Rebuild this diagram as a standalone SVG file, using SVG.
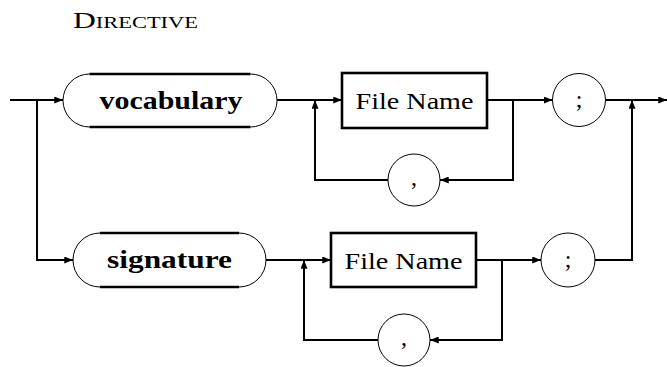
<svg xmlns="http://www.w3.org/2000/svg" width="667" height="367" viewBox="0 0 667 367">
<style>
  .conn { fill: none; stroke: #000; stroke-width: 2; }
  .thin { fill: none; stroke: #000; stroke-width: 1; }
  .thick { fill: none; stroke: #000; stroke-width: 2.6; }
  .box { fill: #fff; stroke: #000; stroke-width: 2.6; }
  .circ { fill: #fff; stroke: #000; stroke-width: 1; }
  text { font-family: "Liberation Serif", "Times New Roman", "DejaVu Serif", serif; fill: #000; }
  .kw { font-family: "Liberation Serif", "DejaVu Serif", serif; font-weight: 700; font-size: 25px; }
  .nt { font-size: 23px; }
  .pn { font-size: 24px; }
</style>
<defs>
  <marker id="arr" viewBox="0 0 10 8" refX="10" refY="4" markerWidth="9" markerHeight="7" markerUnits="userSpaceOnUse" orient="auto">
    <path d="M0,0 L10,4 L0,8 Z" fill="#000"/>
  </marker>
</defs>

<text x="73" y="28" textLength="125" lengthAdjust="spacingAndGlyphs"><tspan font-size="22.5">D</tspan><tspan font-size="16">IRECTIVE</tspan></text>

<g id="connectors">
  <path class="conn" d="M10,100 H63" marker-end="url(#arr)"/>
  <path class="conn" d="M37,100 V260 H73" marker-end="url(#arr)"/>
  <path class="conn" d="M277,100 H342" marker-end="url(#arr)"/>
  <path class="conn" d="M487,100 H552.5" marker-end="url(#arr)"/>
  <path class="conn" d="M513,100 V180 H440" marker-end="url(#arr)"/>
  <path class="conn" d="M388,180 H315 V100" marker-end="url(#arr)"/>
  <path class="conn" d="M605.5,100 H667" marker-end="url(#arr)"/>
  <path class="conn" d="M595,260 H632 V100" marker-end="url(#arr)"/>
  <path class="conn" d="M266,260 H331" marker-end="url(#arr)"/>
  <path class="conn" d="M476,260 H541" marker-end="url(#arr)"/>
  <path class="conn" d="M502,260 V340 H430" marker-end="url(#arr)"/>
  <path class="conn" d="M378,340 H304 V260" marker-end="url(#arr)"/>
</g>

<g id="vocabulary">
  <path class="thin" d="M89.5,74 A26.5,26.5 0 0 0 89.5,127 M250.5,74 A26.5,26.5 0 0 1 250.5,127"/>
  <path class="thick" d="M89.5,74 H250.5 M89.5,127 H250.5"/>
  <text class="kw" x="171" y="109" text-anchor="middle" textLength="143" lengthAdjust="spacingAndGlyphs">vocabulary</text>
</g>

<g id="filename1">
  <rect class="box" x="342" y="73" width="145" height="55"/>
  <text class="nt" x="414.5" y="109" text-anchor="middle" textLength="118" lengthAdjust="spacingAndGlyphs">File Name</text>
</g>

<g id="comma1">
  <circle class="circ" cx="414" cy="180" r="26"/>
  <text class="pn" x="414" y="185" text-anchor="middle">,</text>
</g>

<g id="semicolon1">
  <circle class="circ" cx="579" cy="100" r="26.5"/>
  <text class="pn" x="579" y="107" text-anchor="middle">;</text>
</g>

<g id="signature">
  <path class="thin" d="M100,233 A27,27 0 0 0 100,287 M239,233 A27,27 0 0 1 239,287"/>
  <path class="thick" d="M100,233 H239 M100,287 H239"/>
  <text class="kw" x="169.5" y="268" text-anchor="middle" textLength="125" lengthAdjust="spacingAndGlyphs">signature</text>
</g>

<g id="filename2">
  <rect class="box" x="331" y="233" width="145" height="54"/>
  <text class="nt" x="403.5" y="269" text-anchor="middle" textLength="118" lengthAdjust="spacingAndGlyphs">File Name</text>
</g>

<g id="comma2">
  <circle class="circ" cx="404" cy="340" r="26"/>
  <text class="pn" x="404" y="345" text-anchor="middle">,</text>
</g>

<g id="semicolon2">
  <circle class="circ" cx="568" cy="260" r="27"/>
  <text class="pn" x="568" y="267" text-anchor="middle">;</text>
</g>
</svg>
